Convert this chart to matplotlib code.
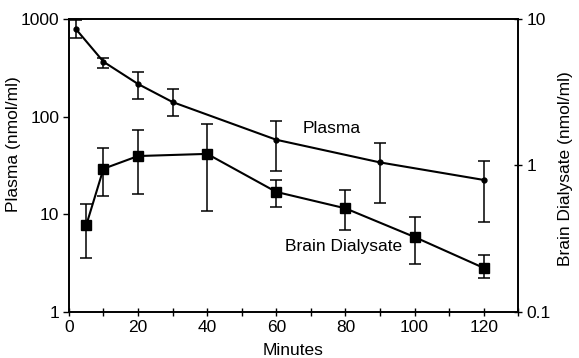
import matplotlib.pyplot as plt
from matplotlib.ticker import FixedLocator, NullLocator

plt.rcParams['font.family'] = ['Liberation Sans', 'DejaVu Sans']

# plasma concentration (nmol/ml), left axis
plasma_t = [2, 10, 20, 30, 60, 90, 120]
plasma = [790, 365, 216, 141, 58, 34, 22.5]
plasma_lo = [640, 315, 150, 102, 28, 13, 8.3]
plasma_hi = [980, 400, 285, 192, 90, 54, 35]

# brain dialysate concentration (nmol/ml), right axis
dial_t = [5, 10, 20, 40, 60, 80, 100, 120]
dial = [0.39, 0.95, 1.16, 1.2, 0.66, 0.51, 0.325, 0.2]
dial_lo = [0.234, 0.62, 0.64, 0.49, 0.52, 0.36, 0.213, 0.17]
dial_hi = [0.546, 1.31, 1.75, 1.92, 0.8, 0.68, 0.445, 0.245]

fig = plt.figure(figsize=(5.79, 3.58), dpi=100)
ax = fig.add_axes([0.119, 0.1285, 0.776, 0.8185])
ax2 = ax.twinx()

perr = [[p - l for p, l in zip(plasma, plasma_lo)], [h - p for p, h in zip(plasma, plasma_hi)]]
ax.errorbar(plasma_t, plasma, yerr=perr, color='black', marker='o', markersize=3.5,
            lw=1.5, elinewidth=1.1, capsize=4, capthick=1.1, clip_on=False)

derr = [[d - l for d, l in zip(dial, dial_lo)], [h - d for d, h in zip(dial, dial_hi)]]
ax2.errorbar(dial_t, dial, yerr=derr, color='black', marker='s', markersize=7,
             lw=1.5, elinewidth=1.1, capsize=4, capthick=1.1)

ax.set_xlim(0, 130)
ax.set_yscale('log')
ax.set_ylim(1, 1000)
ax2.set_yscale('log')
ax2.set_ylim(0.1, 10)

ax.set_xticks([0, 20, 40, 60, 80, 100, 120])
ax.xaxis.set_minor_locator(FixedLocator([10, 30, 50, 70, 90, 110, 130]))
ax.set_yticks([1, 10, 100, 1000])
ax.set_yticklabels(['1', '10', '100', '1000'])
ax.yaxis.set_minor_locator(NullLocator())
ax2.set_yticks([0.1, 1, 10])
ax2.set_yticklabels(['0.1', '1', '10'])
ax2.yaxis.set_minor_locator(NullLocator())

ax.tick_params(axis='x', which='both', direction='inout', length=6, width=1, labelsize=12.5, pad=3)
ax.tick_params(axis='y', which='major', direction='out', length=4, width=1, labelsize=12.5, pad=3)
ax2.tick_params(axis='y', which='major', direction='inout', length=6, width=1, labelsize=12.5, pad=3)

for a in (ax, ax2):
    for s in a.spines.values():
        s.set_linewidth(1.2)

ax.set_xlabel('Minutes', fontsize=12.5)
ax.set_ylabel('Plasma (nmol/ml)', fontsize=12.5)
ax2.set_ylabel('Brain Dialysate (nmol/ml)', fontsize=12.5)
ax.xaxis.set_label_coords(0.5, -0.105)
ax.yaxis.set_label_coords(-0.106, 0.573)
ax2.yaxis.set_label_coords(1.088, 0.49)

ax.text(76, 75, 'Plasma', fontsize=12.5, ha='center', va='center')
ax2.text(79.6, 0.28, 'Brain Dialysate', fontsize=12.5, ha='center', va='center')

fig.savefig('out.png', dpi=100)
